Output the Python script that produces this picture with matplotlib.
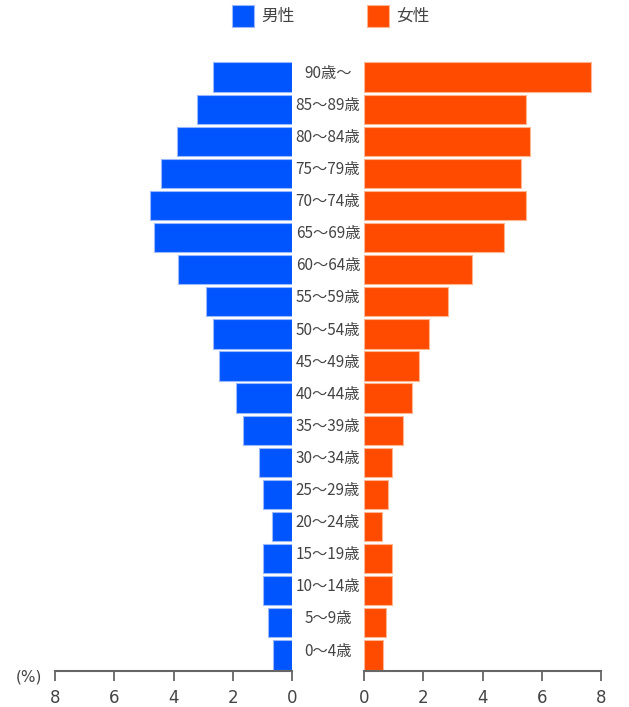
import matplotlib
matplotlib.use("Agg")
import matplotlib.pyplot as plt
from matplotlib import transforms
from matplotlib.patches import Rectangle

plt.rcParams["font.family"] = ["Noto Sans CJK JP", "DejaVu Sans"]

# age groups, bottom to top
ages = ["0～4歳", "5～9歳", "10～14歳", "15～19歳", "20～24歳", "25～29歳",
        "30～34歳", "35～39歳", "40～44歳", "45～49歳", "50～54歳", "55～59歳",
        "60～64歳", "65～69歳", "70～74歳", "75～79歳", "80～84歳", "85～89歳",
        "90歳～"]
male = [0.65, 0.80, 0.99, 0.99, 0.66, 0.97, 1.12, 1.65, 1.89, 2.47,
        2.68, 2.90, 3.85, 4.66, 4.81, 4.43, 3.89, 3.19, 2.68]
female = [0.64, 0.75, 0.95, 0.95, 0.61, 0.80, 0.96, 1.30, 1.61, 1.87,
          2.19, 2.82, 3.65, 4.72, 5.46, 5.31, 5.59, 5.46, 7.67]
ticks = [0, 2, 4, 6, 8]
series = ["男性", "女性"]

BLUE, ORANGE = "#0055ff", "#ff4b00"
EDGE_B, EDGE_O = "#9bb8ff", "#ffb58f"
TXT = "#444444"
W, H = 629, 707

fig = plt.figure(figsize=(W / 100, H / 100), dpi=100)
bot, top = 671, 61
ax_l = fig.add_axes([55 / W, 1 - bot / H, 237 / W, (bot - top) / H])
ax_r = fig.add_axes([364 / W, 1 - bot / H, 237 / W, (bot - top) / H])

y = range(len(ages))
ax_l.barh(y, male, height=0.91, color=BLUE, edgecolor=EDGE_B, lw=0.8)
ax_r.barh(y, female, height=0.91, color=ORANGE, edgecolor=EDGE_O, lw=0.8)

ax_l.set_xlim(8, 0)
ax_r.set_xlim(0, 8)
for ax in (ax_l, ax_r):
    ax.set_ylim(-0.5, len(ages) - 0.5)
    ax.set_yticks([])
    ax.set_xticks(ticks)
    ax.set_xticklabels([str(t) for t in ticks], family="DejaVu Sans")
    for s in ("top", "left", "right"):
        ax.spines[s].set_visible(False)
    ax.spines["bottom"].set_color("#666666")
    ax.spines["bottom"].set_linewidth(1.5)
    ax.tick_params(axis="x", colors="#666666", length=7, width=1.3,
                   labelsize=12, labelcolor=TXT, pad=6)

# age labels between the two halves
tr = transforms.blended_transform_factory(fig.transFigure, ax_r.transData)
for i, a in enumerate(ages):
    ax_r.text(328 / W, i + 0.12, a, transform=tr, ha="center", va="center",
              fontsize=11, color=TXT, clip_on=False)

fig.text(29 / W, 1 - 677 / H, "(%)", ha="center", va="center", fontsize=11,
         color=TXT, family="DejaVu Sans")

# legend: colour squares with labels across the top
for x0, col, edge, name in [(232, BLUE, EDGE_B, series[0]), (367, ORANGE, EDGE_O, series[1])]:
    fig.patches.append(Rectangle((x0 / W, 1 - 27 / H), 22 / W, 22 / H,
                                 transform=fig.transFigure, facecolor=col,
                                 edgecolor=edge, lw=0.8))
    fig.text((x0 + 29) / W, 1 - 16 / H, name, ha="left", va="center",
             fontsize=12, color=TXT)

fig.savefig("out.png", dpi=100)
